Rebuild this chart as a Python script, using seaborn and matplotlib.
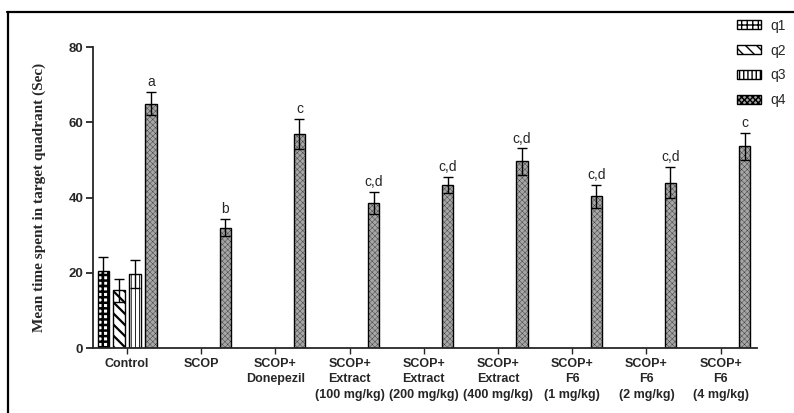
import matplotlib
matplotlib.use("Agg")
import matplotlib.pyplot as plt
from matplotlib.lines import Line2D
import numpy as np
import pandas as pd
import seaborn as sns

# ---- data -------------------------------------------------------------
groups = [
    "Control", "SCOP", "SCOP+\nDonepezil",
    "SCOP+\nExtract\n(100 mg/kg)", "SCOP+\nExtract\n(200 mg/kg)",
    "SCOP+\nExtract\n(400 mg/kg)", "SCOP+\nF6\n(1 mg/kg)",
    "SCOP+\nF6\n(2 mg/kg)", "SCOP+\nF6\n(4 mg/kg)",
]
quadrants = ["q1", "q2", "q3", "q4"]

# Control group: time in each quadrant
control_mean = [20.4, 15.4, 19.7, 65.0]
control_sem = [3.7, 3.1, 3.8, 3.0]

# Target quadrant (q4) for the treated groups
q4_mean = [32.0, 57.0, 38.6, 43.4, 49.6, 40.3, 44.0, 53.6]
q4_sem = [2.3, 4.0, 3.0, 2.2, 3.5, 3.1, 4.1, 3.7]

sig_letters = ["a", "b", "c", "c,d", "c,d", "c,d", "c,d", "c,d", "c"]

# ---- long-format table ------------------------------------------------
rows = []
for q, m, s in zip(quadrants, control_mean, control_sem):
    rows.append(dict(group=groups[0], quadrant=q, time=m, sem=s))
for g, m, s in zip(groups[1:], q4_mean, q4_sem):
    rows.append(dict(group=g, quadrant="q4", time=m, sem=s))
df = pd.DataFrame(rows)
sem_lookup = {(r.group, r.quadrant): r.sem for r in df.itertuples()}

# ---- style ------------------------------------------------------------
sns.set_style("ticks")
plt.rcParams["font.family"] = ["Liberation Sans", "DejaVu Sans"]
plt.rcParams["hatch.linewidth"] = 1.0

fig = plt.figure(figsize=(7.94, 4.13), dpi=100)
ax = fig.add_axes([0.117, 0.157, 0.836, 0.729])

sns.barplot(
    data=df, x="group", y="time", hue="quadrant",
    order=groups, hue_order=quadrants,
    width=0.86, gap=0.3, errorbar=None,
    edgecolor="black", linewidth=1.0, ax=ax, legend=False,
)

styles = {
    "q1": dict(face="white", hatch="+++", hlw=1.8),
    "q2": dict(face="white", hatch="\\\\\\", hlw=1.6),
    "q3": dict(face="white", hatch="||||", hlw=0.6),
    "q4": dict(face="#a6a6a6", hatch="xxxxxx", hlw=0.2),
}

handles = []
for q, cont in zip(quadrants, ax.containers):
    st = styles[q]
    for bar in cont.patches:
        bar.set_facecolor(st["face"])
        bar.set_edgecolor("black")
        bar.set_hatch(st["hatch"])
        if hasattr(bar, "set_hatch_linewidth"):
            bar.set_hatch_linewidth(st["hlw"])
    handles.append(cont.patches[0])

# error bars and significance letters, placed on the drawn bars
for q, cont in zip(quadrants, ax.containers):
    for bar in cont.patches:
        xc = bar.get_x() + bar.get_width() / 2
        h = bar.get_height()
        gi = int(round(xc))
        err = sem_lookup[(groups[gi], q)]
        ax.errorbar(xc, h, yerr=err, fmt="none", ecolor="black",
                    elinewidth=1.0, capsize=3.5, capthick=1.0, zorder=5)
        if q == "q4":
            ax.annotate(sig_letters[gi], (xc, h + err), xytext=(0, 2),
                        textcoords="offset points", ha="center", va="bottom",
                        fontsize=10)

ax.set_xlim(-0.46, 8.485)
ax.set_ylim(0, 80)
ax.set_yticks([0, 20, 40, 60, 80])
ax.set_xlabel("")
ax.set_ylabel("Mean time spent in target quadrant (Sec)",
              fontfamily="Liberation Serif", fontweight="bold",
              fontsize=11, labelpad=16)
sns.despine(ax=ax)
for sp in ("left", "bottom"):
    ax.spines[sp].set_linewidth(1.3)
ax.tick_params(axis="y", length=5, width=1.3, labelsize=9.5, pad=2)
ax.tick_params(axis="x", length=4, width=1.0, labelsize=9, pad=3)
for lab in ax.get_yticklabels() + ax.get_xticklabels():
    lab.set_fontweight("bold")
for lab in ax.get_xticklabels():
    lab.set_linespacing(1.4)

leg = fig.legend(handles=handles, labels=quadrants, loc="upper left",
                 bbox_to_anchor=(0.913, 0.985), frameon=False,
                 fontsize=10, handlelength=1.7, handleheight=0.6,
                 handletextpad=0.7, labelspacing=0.78)

# outer frame (left and top edges)
fig.add_artist(Line2D([0.0103, 0.0103], [0.0, 0.971], color="black",
                      linewidth=1.6, transform=fig.transFigure))
fig.add_artist(Line2D([0.0093, 1.0], [0.971, 0.971], color="black",
                      linewidth=1.6, transform=fig.transFigure))

fig.savefig("out.png", dpi=100)
